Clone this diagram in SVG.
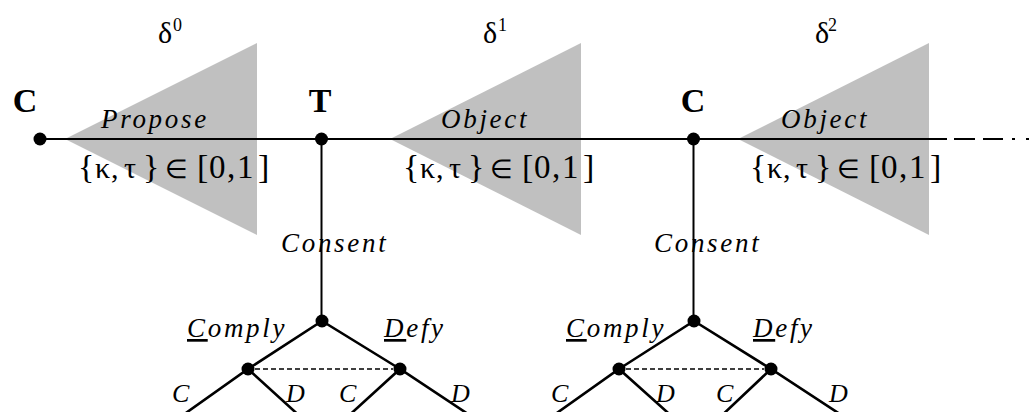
<svg xmlns="http://www.w3.org/2000/svg" width="1034" height="412" viewBox="0 0 1034 412">
<style>
.tri{fill:#c0c0c0;stroke:none}
.main{stroke:#000;stroke-width:2;fill:none}
.tree{stroke:#000;stroke-width:2.6;fill:none;stroke-linecap:round}
.info{stroke:#000;stroke-width:1.5;stroke-dasharray:5 3;fill:none}
.dot{fill:#000}
.pl{font-family:"Liberation Serif",serif;font-weight:bold;font-size:34px;fill:#000;text-anchor:middle}
.it{font-family:"Liberation Serif",serif;font-style:italic;font-size:27px;letter-spacing:2.7px;fill:#000}
.lv{font-family:"Liberation Serif",serif;font-style:italic;font-size:26px;fill:#000}
.rm{font-family:"Liberation Serif",serif;fill:#000}
.b{font-size:34px}
.g{font-size:30px}
.n{font-size:33px}
.dl{font-family:"Liberation Serif",serif;font-size:30px;fill:#000}
.sup{font-family:"Liberation Serif",serif;font-size:18px;fill:#000}
.ul{text-decoration:underline}
</style>

<g id="stages">
  <polygon class="tri" points="65,139 257,43 257,235"/>
  <polygon class="tri" points="390,139 581,43 581,235"/>
  <polygon class="tri" points="738,139 929,43 929,235"/>
  <text class="dl" x="158" y="43">δ</text><text class="sup" x="173" y="31">0</text>
  <text class="dl" x="483" y="43">δ</text><text class="sup" x="498" y="31">1</text>
  <text class="dl" x="815" y="43">δ</text><text class="sup" x="828" y="31">2</text>
</g>

<g id="connectors">
  <line class="main" x1="40" y1="139" x2="947" y2="139"/>
  <path class="main" d="M954 139H975M983 139H1003M1012 139H1015M1026 139H1029"/>
  <line class="main" x1="321.5" y1="139" x2="321.5" y2="321"/>
  <line class="main" x1="693.5" y1="139" x2="693.5" y2="321"/>
  <path class="tree" d="M248 369L322 321L400 369M176 420L248 369L304 420M344 420L400 369L477 420"/>
  <path class="tree" d="M619 369L694 321L771 369M547 420L619 369L676 420M717 420L771 369L849 420"/>
  <line class="info" x1="255" y1="369" x2="393" y2="369"/>
  <line class="info" x1="626" y1="369" x2="764" y2="369"/>
</g>

<g id="edge-labels">
  <text class="it" x="101" y="128">Propose</text>
  <text class="it" x="441" y="128">Object</text>
  <text class="it" x="781" y="128">Object</text>
  <text class="it" x="281" y="252">Consent</text>
  <text class="it" x="654" y="252">Consent</text>
  <text class="it" x="187" y="337"><tspan class="ul">C</tspan>omply</text>
  <text class="it" x="384" y="337"><tspan class="ul">D</tspan>efy</text>
  <text class="it" x="566" y="337"><tspan class="ul">C</tspan>omply</text>
  <text class="it" x="753" y="337"><tspan class="ul">D</tspan>efy</text>
  <text class="lv" x="172" y="402">C</text>
  <text class="lv" x="286" y="402">D</text>
  <text class="lv" x="339" y="402">C</text>
  <text class="lv" x="451" y="402">D</text>
  <text class="lv" x="551" y="402">C</text>
  <text class="lv" x="656" y="402">D</text>
  <text class="lv" x="716" y="402">C</text>
  <text class="lv" x="829" y="402">D</text>
</g>

<g id="params">
  <text class="rm" y="178"><tspan class="b" x="78">{</tspan><tspan class="g" x="95">κ</tspan><tspan class="g" x="111">,</tspan><tspan class="g" x="124">τ</tspan><tspan class="b" x="143">}</tspan><tspan x="165" font-size="26">∈</tspan><tspan class="b" x="197">[</tspan><tspan class="n" x="209">0</tspan><tspan class="n" x="227">,</tspan><tspan class="n" x="237">1</tspan><tspan class="b" x="258">]</tspan></text>
  <g transform="translate(325,0)">
  <text class="rm" y="178"><tspan class="b" x="78">{</tspan><tspan class="g" x="95">κ</tspan><tspan class="g" x="111">,</tspan><tspan class="g" x="124">τ</tspan><tspan class="b" x="143">}</tspan><tspan x="165" font-size="26">∈</tspan><tspan class="b" x="197">[</tspan><tspan class="n" x="209">0</tspan><tspan class="n" x="227">,</tspan><tspan class="n" x="237">1</tspan><tspan class="b" x="258">]</tspan></text>
  </g>
  <g transform="translate(672,0)">
  <text class="rm" y="178"><tspan class="b" x="78">{</tspan><tspan class="g" x="95">κ</tspan><tspan class="g" x="111">,</tspan><tspan class="g" x="124">τ</tspan><tspan class="b" x="143">}</tspan><tspan x="165" font-size="26">∈</tspan><tspan class="b" x="197">[</tspan><tspan class="n" x="209">0</tspan><tspan class="n" x="227">,</tspan><tspan class="n" x="237">1</tspan><tspan class="b" x="258">]</tspan></text>
  </g>
</g>

<g id="node-C0"><circle class="dot" cx="40" cy="139" r="6.5"/><text class="pl" x="25" y="112">C</text></g>
<g id="node-T1"><circle class="dot" cx="321.5" cy="139" r="6.5"/><text class="pl" x="320" y="112">T</text></g>
<g id="node-C2"><circle class="dot" cx="693.5" cy="139" r="6.5"/><text class="pl" x="693" y="112">C</text></g>
<g id="node-T1-consent"><circle class="dot" cx="322" cy="321" r="6.5"/></g>
<g id="node-T1-comply"><circle class="dot" cx="248" cy="369" r="6.5"/></g>
<g id="node-T1-defy"><circle class="dot" cx="400" cy="369" r="6.5"/></g>
<g id="node-C2-consent"><circle class="dot" cx="694" cy="321" r="6.5"/></g>
<g id="node-C2-comply"><circle class="dot" cx="619" cy="369" r="6.5"/></g>
<g id="node-C2-defy"><circle class="dot" cx="771" cy="369" r="6.5"/></g>
</svg>
